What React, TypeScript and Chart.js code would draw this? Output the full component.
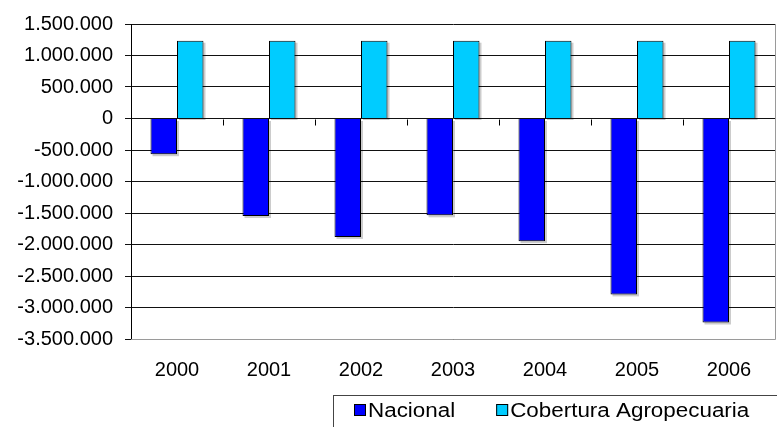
import React, { useEffect, useRef } from "react";
import { Chart, registerables } from "chart.js";

Chart.register(...registerables);

const categories = ["2000", "2001", "2002", "2003", "2004", "2005", "2006"];
const seriesNames = ["Nacional", "Cobertura Agropecuaria"];
const nacional = [-567000, -1548000, -1879000, -1537000, -1947000, -2792000, -3238000];
const cobertura = [1235000, 1235000, 1235000, 1235000, 1235000, 1235000, 1235000];
const seriesColors = ["#0000FF", "#00CCFF"];
const yMin = -3500000;
const yMax = 1500000;
const yStep = 500000;

const FONT = "'Liberation Sans', Arial, sans-serif";

function fmt(v: number): string {
  const r = Math.round(v);
  const s = Math.abs(r).toString().replace(/\B(?=(\d{3})+(?!\d))/g, ".");
  return r < 0 ? "-" + s : s;
}

const extrasPlugin = {
  id: "extras",
  beforeDatasetsDraw(chart: any) {
    const ctx = chart.ctx;
    ctx.save();
    ctx.fillStyle = "rgba(0,0,0,0.2)";
    chart.data.datasets.forEach((_ds: any, i: number) => {
      const meta = chart.getDatasetMeta(i);
      meta.data.forEach((bar: any) => {
        const { x, y, base, width } = bar.getProps(["x", "y", "base", "width"], true);
        const t = Math.min(y, base);
        const h = Math.abs(base - y);
        ctx.fillRect(x - width / 2 + 2, t + 2, width, h);
      });
    });
    ctx.restore();
  },
  afterDraw(chart: any) {
    const ctx = chart.ctx;
    const { left, right, top, bottom } = chart.chartArea;
    const xs = chart.scales.x;
    const ys = chart.scales.y;
    ctx.save();
    // right and bottom frame
    ctx.strokeStyle = "#9a9a9a";
    ctx.lineWidth = 1;
    ctx.beginPath();
    ctx.moveTo(Math.round(right) + 0.5, top);
    ctx.lineTo(Math.round(right) + 0.5, Math.round(bottom) + 0.5);
    ctx.lineTo(left, Math.round(bottom) + 0.5);
    ctx.stroke();
    // category tick marks on the zero line
    const y0 = Math.round(ys.getPixelForValue(0)) + 0.5;
    ctx.strokeStyle = "#000";
    ctx.beginPath();
    const n = categories.length;
    for (let i = 1; i < n; i++) {
      const bx = Math.round((xs.getPixelForTick(i - 1) + xs.getPixelForTick(i)) / 2) + 0.5;
      ctx.moveTo(bx, y0);
      ctx.lineTo(bx, y0 + 6);
    }
    ctx.stroke();
    // legend box
    ctx.strokeStyle = "#444";
    ctx.strokeRect(333.5, 395.5, 500, 60);
    ctx.font = `20px ${FONT}`;
    ctx.textBaseline = "middle";
    ctx.textAlign = "left";
    const cy = 410;
    const stretch = 1.12;
    let lx = 354;
    chart.data.datasets.forEach((ds: any) => {
      ctx.fillStyle = ds.backgroundColor;
      ctx.fillRect(lx, cy - 6, 12, 12);
      ctx.strokeStyle = "#000";
      ctx.strokeRect(lx + 0.5, cy - 6 + 0.5, 11, 11);
      ctx.fillStyle = "#000";
      ctx.save();
      ctx.translate(lx + 14, cy + 1);
      ctx.scale(stretch, 1);
      ctx.fillText(ds.label, 0, 0);
      ctx.restore();
      lx = lx + 14 + ctx.measureText(ds.label).width * stretch + 41;
    });
    ctx.restore();
  },
};

export default function App() {
  const ref = useRef<HTMLCanvasElement | null>(null);
  useEffect(() => {
    document.body.style.margin = "0";
    const canvas = ref.current;
    if (!canvas) return;
    const chart = new Chart(canvas, {
      type: "bar",
      data: {
        labels: categories,
        datasets: [
          {
            label: seriesNames[0],
            data: nacional,
            backgroundColor: seriesColors[0],
            borderColor: "#000",
            borderWidth: 1,
            categoryPercentage: 0.576,
            barPercentage: 1,
          },
          {
            label: seriesNames[1],
            data: cobertura,
            backgroundColor: seriesColors[1],
            borderColor: "#000",
            borderWidth: 1,
            categoryPercentage: 0.576,
            barPercentage: 1,
          },
        ],
      },
      options: {
        responsive: false,
        animation: false,
        devicePixelRatio: 1,
        layout: { padding: { top: 22, right: 2, left: 0, bottom: 0 } },
        plugins: {
          legend: { display: false },
          tooltip: { enabled: false },
          title: { display: false },
        },
        scales: {
          x: {
            grid: { display: false, drawTicks: false },
            border: { display: false },
            ticks: {
              color: "#000",
              font: { family: FONT, size: 20 },
              padding: 19,
              maxRotation: 0,
            },
            afterFit: (s: any) => {
              s.height = 88;
            },
          },
          y: {
            min: yMin,
            max: yMax,
            grid: { color: "#111", lineWidth: 1, tickLength: 6, drawTicks: true },
            border: { display: true, color: "#000", width: 1 },
            ticks: {
              stepSize: yStep,
              color: "#000",
              font: { family: FONT, size: 20 },
              padding: 12,
              callback: (v: any) => fmt(Number(v)),
            },
            afterFit: (s: any) => {
              s.width = 131;
            },
          },
        },
      },
      plugins: [extrasPlugin],
    });
    return () => chart.destroy();
  }, []);
  return (
    <div style={{ width: 777, height: 427, background: "#fff" }}>
      <canvas ref={ref} width={777} height={427} style={{ display: "block" }} />
    </div>
  );
}
